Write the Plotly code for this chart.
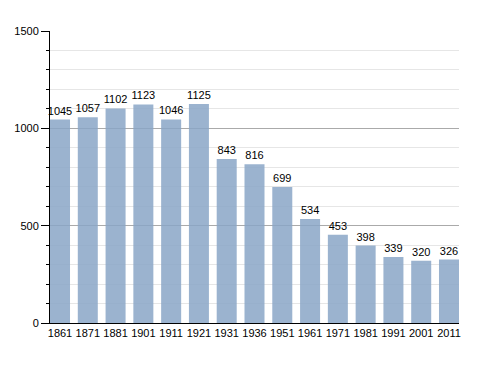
import plotly.graph_objects as go

years = ["1861", "1871", "1881", "1901", "1911", "1921", "1931", "1936", "1951", "1961", "1971", "1981", "1991", "2001", "2011"]
population = [1045, 1057, 1102, 1123, 1046, 1125, 843, 816, 699, 534, 453, 398, 339, 320, 326]

fig = go.Figure(go.Bar(
    x=years, y=population,
    marker=dict(color="#8aa6c7", opacity=0.85, line=dict(width=0)),
    text=[str(v) for v in population], textposition="outside",
    textfont=dict(size=11, color="#000000", family="Liberation Sans, Arial"),
    cliponaxis=False,
))

fig.update_layout(
    width=488, height=373,
    margin=dict(l=42, r=37, t=23, b=58),
    paper_bgcolor="white", plot_bgcolor="white",
    bargap=0.28, showlegend=False,
    uniformtext=dict(minsize=11, mode="show"),
    font=dict(family="Liberation Sans, Arial", size=11, color="#000000"),
    xaxis=dict(type="category", range=[-0.36, 14.36], showline=True, linecolor="black", linewidth=1,
               ticks="", showgrid=False, tickfont=dict(size=11), automargin=False),
    yaxis=dict(range=[0, 1500], dtick=500, showline=True, linecolor="black", linewidth=1,
               ticks="outside", ticklen=8, tickcolor="black", automargin=False,
               showgrid=True, gridcolor="#aaaaaa", gridwidth=1, zeroline=False,
               tickfont=dict(size=11),
               minor=dict(dtick=100, ticks="outside", ticklen=3, tickcolor="black",
                          showgrid=True, gridcolor="#e6e6e6", gridwidth=1)),
)

fig.write_html("out.html")
